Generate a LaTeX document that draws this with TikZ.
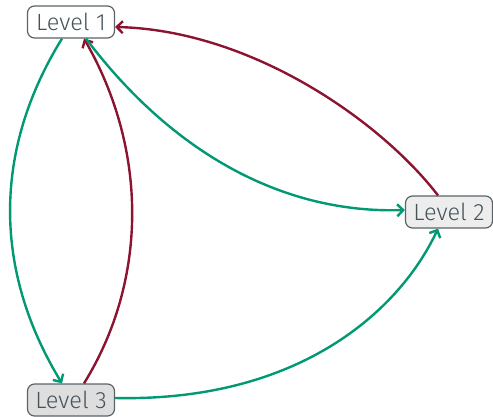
\documentclass[tikz,border=0pt]{standalone}
\usepackage{fontspec}
\setmainfont{Fira Sans Light}
\usetikzlibrary{arrows.meta}
\definecolor{edgegreen}{HTML}{009973}
\definecolor{edgered}{HTML}{8C1430}
\definecolor{boxline}{HTML}{5A6469}
\definecolor{textc}{HTML}{46545A}
\tikzset{
  lvl/.style={draw=boxline, line width=1.2pt, rounded corners=7pt, minimum width=87pt, minimum height=32pt, inner sep=2pt, text=textc, font=\fontsize{23.5}{25}\selectfont},
  gedge/.style={draw=edgegreen, line width=2.4pt, -{Straight Barb[length=6pt,width=12pt]}},
  redge/.style={draw=edgered, line width=2.4pt, -{Straight Barb[length=6pt,width=12pt]}}
}
\begin{document}
\begin{tikzpicture}[x=1pt,y=-1pt]
\useasboundingbox (0,0) rectangle (493,416);
\node[lvl, fill=white] (l1) at (71,22) {Level 1};
\node[lvl, fill=black!7] (l2) at (449,212) {Level 2};
\node[lvl, fill=black!13] (l3) at (71,400) {Level 3};
\draw[gedge] ([xshift=-9pt]l1.south) .. controls (-7,150) and (-7,270) .. ([xshift=-9pt]l3.north);
\draw[redge] ([xshift=13pt]l3.north) .. controls (148,280) and (148,150) .. ([xshift=13pt]l1.south);
\draw[gedge] ([xshift=15pt]l1.south) .. controls (170,150) and (280,214) .. ([yshift=2pt]l2.west);
\draw[redge] ([xshift=-11pt]l2.north) .. controls (380,120) and (250,30) .. ([yshift=-5pt]l1.east);
\draw[gedge] ([yshift=2pt]l3.east) .. controls (300,402) and (400,310) .. ([xshift=-11pt]l2.south);
\end{tikzpicture}
\end{document}
